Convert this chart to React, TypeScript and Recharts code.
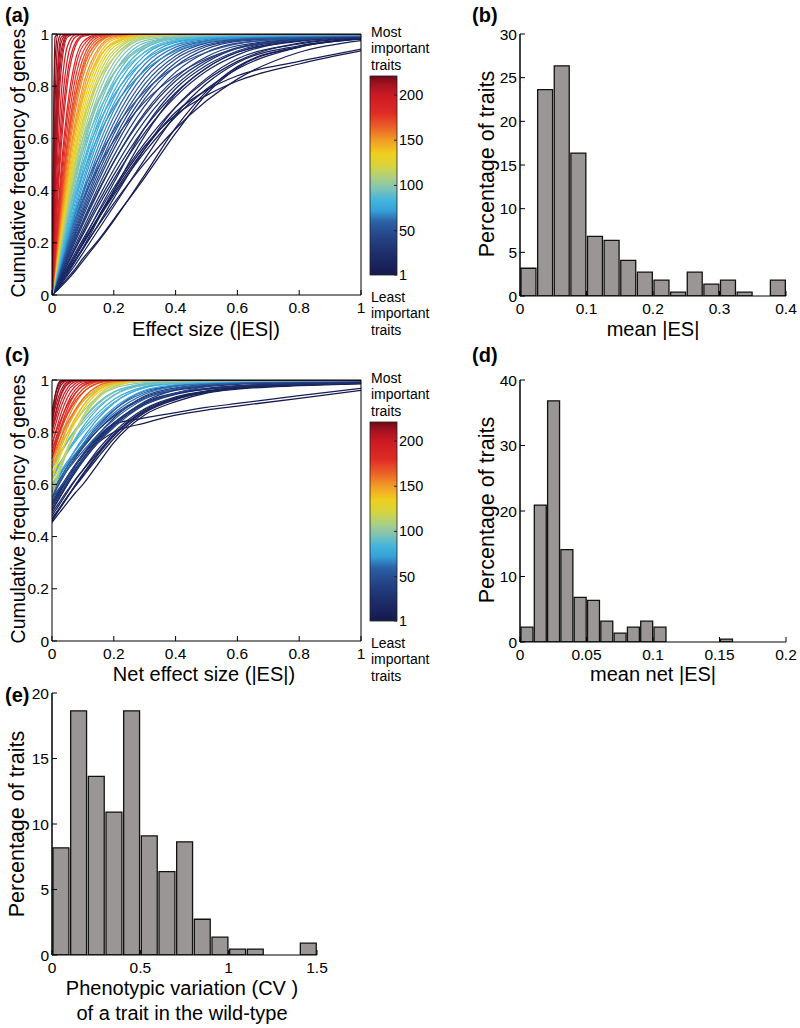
import React from 'react';
import { LineChart, Line, XAxis, YAxis, BarChart, Bar, ReferenceLine } from 'recharts';

const FONT = '"Liberation Sans", Arial, Helvetica, sans-serif';

// x grid (|ES|) shared by every cumulative curve in panels (a) and (c)
const ES_GRID = [0, 0.01, 0.02, 0.03, 0.05, 0.075, 0.1, 0.15, 0.2, 0.3, 0.4, 0.5, 0.6, 0.8, 1];
const CUM_XTICKS = [0, 0.2, 0.4, 0.6, 0.8, 1];
const CUM_YTICKS = [0, 0.2, 0.4, 0.6, 0.8, 1];

// panel (a): importance rank of each trait curve, and its cumulative frequency on ES_GRID
const RANKS_A = [
  1, 2, 3, 5, 7, 9, 11, 13, 15, 17, 19, 20, 23, 27, 29,
  31, 35, 39, 41, 43, 47, 51, 53, 55, 59, 63, 67, 69,
  71, 75, 77, 79, 83, 87, 89, 91, 93, 96, 99, 101,
  106, 112, 115, 118, 124, 130, 136, 139, 142, 147,
  152, 157, 160, 162, 167, 172, 177, 182,
  186, 190, 192, 194, 198, 202, 204, 206, 208, 210, 214, 217, 220,
];
const CURVES_A = [
  [0, .02, .04, .06, .10, .15, .20, .30, .40, .57, .69, .765, .82, .885, .935],
  [0, .01, .021, .033, .058, .092, .13, .205, .285, .46, .64, .78, .875, .952, .981],
  [0, .019, .038, .057, .095, .145, .195, .295, .39, .56, .70, .785, .84, .895, .942],
  [0, .012, .025, .038, .065, .10, .14, .21, .29, .45, .62, .77, .87, .95, .98],
  [0, .018, .036, .054, .091, .135, .18, .267, .351, .505, .637, .744, .827, .93, .975],
  [0, .014, .028, .043, .075, .115, .16, .25, .34, .52, .69, .81, .89, .955, .983],
  [0, .02, .04, .06, .10, .149, .197, .292, .383, .547, .683, .789, .866, .95, .982],
  [0, .016, .033, .05, .085, .13, .175, .27, .37, .56, .72, .83, .905, .962, .986],
  [0, .022, .043, .065, .107, .161, .213, .315, .411, .582, .72, .823, .895, .965, .986],
  [0, .015, .03, .047, .082, .128, .18, .29, .40, .61, .77, .87, .93, .975, .99],
  [0, .025, .05, .074, .12, .18, .24, .355, .46, .64, .775, .87, .93, .972, .988],
  [0, .024, .047, .07, .117, .175, .231, .341, .443, .622, .76, .858, .92, .975, .988],
  [0, .018, .037, .056, .095, .15, .205, .32, .43, .64, .79, .88, .935, .978, .991],
  [0, .026, .051, .077, .128, .191, .253, .372, .481, .667, .803, .892, .945, .978, .99],
  [0, .03, .06, .09, .145, .215, .28, .40, .51, .69, .82, .90, .948, .98, .99],
  [0, .028, .055, .082, .137, .204, .27, .395, .51, .699, .832, .913, .955, .98, .989],
  [0, .029, .058, .087, .145, .215, .284, .415, .533, .725, .854, .93, .965, .983, .99],
  [0, .031, .061, .092, .152, .227, .30, .436, .558, .751, .876, .943, .972, .985, .991],
  [0, .045, .088, .13, .205, .29, .365, .49, .59, .74, .84, .905, .945, .978, .99],
  [0, .032, .064, .096, .159, .236, .311, .451, .576, .77, .89, .952, .975, .986, .992],
  [0, .033, .066, .10, .165, .245, .323, .468, .595, .789, .904, .958, .977, .987, .993],
  [0, .035, .069, .104, .172, .256, .336, .486, .616, .808, .916, .965, .979, .988, .993],
  [0, .05, .098, .143, .225, .315, .395, .525, .63, .78, .875, .93, .962, .985, .993],
  [0, .036, .073, .108, .18, .267, .351, .505, .637, .827, .928, .968, .981, .989, .994],
  [0, .038, .076, .114, .188, .279, .366, .525, .659, .847, .94, .972, .983, .99, .994],
  [0, .04, .08, .119, .197, .292, .383, .547, .683, .866, .95, .975, .985, .991, .995],
  [0, .042, .084, .125, .207, .307, .401, .57, .708, .884, .958, .979, .986, .992, .996],
  [0, .062, .12, .175, .27, .375, .465, .61, .72, .86, .935, .97, .985, .994, .997],
  [0, .044, .088, .132, .219, .323, .422, .595, .733, .902, .968, .983, .989, .994, .997],
  [0, .046, .093, .138, .229, .337, .438, .617, .755, .918, .972, .985, .99, .995, .998],
  [0, .07, .135, .195, .30, .41, .505, .655, .765, .90, .96, .983, .992, .997, .999],
  [0, .049, .098, .146, .241, .354, .459, .642, .78, .932, .978, .988, .992, .996, .998],
  [0, .052, .103, .154, .253, .372, .481, .667, .803, .945, .982, .99, .994, .997, .999],
  [0, .054, .107, .161, .265, .388, .501, .688, .823, .956, .985, .992, .995, .998, .999],
  [0, .08, .152, .218, .333, .452, .55, .70, .81, .93, .975, .99, .996, .999, 1],
  [0, .057, .114, .17, .279, .408, .525, .716, .847, .966, .988, .994, .996, .998, .999],
  [0, .075, .148, .215, .335, .465, .575, .74, .85, .958, .988, .996, .999, 1, 1],
  [0, .06, .121, .18, .296, .43, .552, .744, .87, .975, .99, .995, .997, .999, 1],
  [0, .09, .17, .245, .37, .50, .60, .75, .85, .95, .985, .995, .999, 1, 1],
  [0, .064, .127, .19, .311, .451, .576, .77, .89, .982, .993, .997, .999, 1, 1],
  [0, .068, .135, .20, .329, .475, .603, .796, .909, .988, .998, 1, 1, 1, 1],
  [0, .071, .142, .211, .345, .497, .628, .819, .926, .992, .999, 1, 1, 1, 1],
  [0, .10, .19, .272, .41, .555, .665, .82, .91, .982, .997, 1, 1, 1, 1],
  [0, .075, .148, .221, .36, .516, .65, .838, .938, .994, 1, 1, 1, 1, 1],
  [0, .078, .156, .231, .376, .538, .673, .858, .95, .996, 1, 1, 1, 1, 1],
  [0, .082, .164, .243, .394, .56, .697, .877, .96, .998, 1, 1, 1, 1, 1],
  [0, .087, .172, .256, .413, .585, .723, .897, .97, .999, 1, 1, 1, 1, 1],
  [0, .12, .225, .32, .48, .64, .76, .905, .965, .997, 1, 1, 1, 1, 1],
  [0, .092, .182, .27, .435, .611, .75, .915, .979, .999, 1, 1, 1, 1, 1],
  [0, .097, .193, .286, .458, .64, .777, .933, .985, 1, 1, 1, 1, 1, 1],
  [0, .102, .202, .30, .478, .664, .80, .945, .99, 1, 1, 1, 1, 1, 1],
  [0, .11, .219, .323, .512, .701, .835, .962, .995, 1, 1, 1, 1, 1, 1],
  [0, .14, .27, .39, .58, .76, .87, .97, .995, 1, 1, 1, 1, 1, 1],
  [0, .117, .231, .341, .538, .73, .858, .973, .997, 1, 1, 1, 1, 1, 1],
  [0, .124, .245, .361, .565, .758, .881, .981, .998, 1, 1, 1, 1, 1, 1],
  [0, .132, .261, .383, .595, .789, .904, .988, .999, 1, 1, 1, 1, 1, 1],
  [0, .145, .284, .415, .637, .827, .931, .994, 1, 1, 1, 1, 1, 1, 1],
  [0, .159, .311, .451, .683, .866, .954, .997, 1, 1, 1, 1, 1, 1, 1],
  [0, .172, .336, .486, .723, .897, .97, .999, 1, 1, 1, 1, 1, 1, 1],
  [0, .207, .401, .57, .812, .951, .991, 1, 1, 1, 1, 1, 1, 1, 1],
  [0, .23, .44, .62, .85, .965, .995, 1, 1, 1, 1, 1, 1, 1, 1],
  [0, .261, .495, .683, .904, .988, .999, 1, 1, 1, 1, 1, 1, 1, 1],
  [0, .311, .576, .77, .954, .997, 1, 1, 1, 1, 1, 1, 1, 1, 1],
  [0, .383, .683, .866, .988, 1, 1, 1, 1, 1, 1, 1, 1, 1, 1],
  [0, .42, .74, .91, .995, 1, 1, 1, 1, 1, 1, 1, 1, 1, 1],
  [0, .468, .789, .939, .998, 1, 1, 1, 1, 1, 1, 1, 1, 1, 1],
  [0, .52, .85, .97, 1, 1, 1, 1, 1, 1, 1, 1, 1, 1, 1],
  [0, .595, .904, .988, 1, 1, 1, 1, 1, 1, 1, 1, 1, 1, 1],
  [0, .733, .973, .999, 1, 1, 1, 1, 1, 1, 1, 1, 1, 1, 1],
  [0, .904, .999, 1, 1, 1, 1, 1, 1, 1, 1, 1, 1, 1, 1],
  [0, .988, 1, 1, 1, 1, 1, 1, 1, 1, 1, 1, 1, 1, 1],
];

// panel (c): net effect size, curves start well above zero
const RANKS_C = [
  1, 3, 5, 7, 10, 12, 13, 16, 19, 22, 25, 28, 31, 33,
  36, 41, 46, 52, 58, 60, 64,
  70, 75, 78, 80, 85, 90, 92, 95, 100, 104,
  108, 110, 118, 126, 134, 142, 146,
  150, 156, 162, 168, 171, 174, 180,
  185, 189, 193, 197, 201, 205, 207, 209, 213, 215, 217, 220,
];
const CURVES_C = [
  [.50, .52, .54, .56, .60, .65, .69, .76, .80, .835, .865, .885, .90, .93, .96],
  [.455, .47, .485, .50, .53, .567, .60, .68, .76, .866, .917, .95, .965, .978, .985],
  [.52, .54, .56, .58, .62, .67, .71, .78, .83, .855, .875, .895, .91, .94, .968],
  [.46, .478, .497, .515, .55, .594, .635, .715, .785, .88, .93, .955, .97, .982, .988],
  [.47, .487, .503, .52, .553, .592, .63, .705, .775, .875, .925, .952, .968, .98, .987],
  [.465, .483, .50, .518, .553, .597, .64, .72, .79, .885, .932, .956, .97, .981, .987],
  [.48, .498, .516, .534, .57, .615, .655, .735, .80, .89, .935, .958, .972, .982, .988],
  [.49, .508, .525, .543, .577, .618, .655, .725, .79, .88, .928, .953, .968, .98, .988],
  [.50, .52, .54, .56, .60, .645, .69, .765, .825, .905, .945, .965, .976, .985, .99],
  [.51, .53, .55, .57, .61, .655, .70, .775, .835, .91, .948, .966, .977, .986, .99],
  [.53, .55, .57, .59, .63, .675, .715, .785, .835, .915, .95, .965, .975, .985, .99],
  [.53, .548, .566, .584, .62, .66, .70, .77, .83, .91, .95, .968, .978, .986, .99],
  [.57, .59, .61, .63, .67, .71, .745, .81, .86, .93, .96, .975, .983, .99, .994],
  [.55, .572, .594, .616, .657, .70, .74, .81, .865, .935, .965, .978, .986, .992, .995],
  [.52, .537, .555, .572, .606, .648, .688, .762, .826, .917, .962, .98, .988, .994, .997],
  [.54, .558, .577, .595, .631, .674, .716, .792, .854, .938, .97, .984, .99, .995, .998],
  [.55, .565, .58, .595, .624, .66, .695, .761, .818, .905, .95, .975, .986, .993, .997],
  [.56, .579, .599, .618, .656, .702, .746, .822, .883, .958, .978, .988, .993, .997, .999],
  [.58, .595, .611, .625, .656, .692, .727, .792, .848, .927, .966, .982, .989, .995, .998],
  [.57, .59, .61, .63, .668, .713, .755, .83, .885, .952, .978, .988, .993, .997, .999],
  [.60, .616, .632, .648, .679, .717, .753, .819, .873, .946, .975, .987, .992, .996, .998],
  [.58, .601, .622, .643, .683, .732, .777, .854, .911, .972, .988, .993, .996, .998, .999],
  [.60, .618, .635, .653, .688, .729, .769, .838, .893, .96, .982, .99, .994, .997, .999],
  [.63, .65, .67, .69, .728, .77, .81, .875, .925, .975, .99, .995, .997, .999, 1],
  [.62, .642, .663, .685, .726, .775, .82, .892, .942, .982, .992, .995, .997, .999, 1],
  [.64, .657, .674, .69, .723, .763, .799, .864, .914, .97, .986, .992, .995, .998, .999],
  [.66, .681, .701, .722, .762, .808, .85, .915, .955, .985, .993, .996, .998, .999, 1],
  [.67, .69, .71, .73, .768, .81, .848, .91, .952, .986, .995, .998, .999, 1, 1],
  [.68, .697, .714, .731, .764, .803, .838, .899, .941, .98, .99, .994, .996, .998, .999],
  [.70, .72, .74, .759, .797, .84, .879, .937, .968, .99, .995, .997, .998, .999, 1],
  [.74, .761, .781, .801, .84, .882, .918, .965, .985, .994, .997, .998, .999, 1, 1],
  [.58, .612, .644, .675, .735, .80, .855, .935, .975, .998, 1, 1, 1, 1, 1],
  [.56, .595, .63, .664, .729, .801, .861, .941, .98, .999, 1, 1, 1, 1, 1],
  [.60, .629, .658, .686, .74, .802, .855, .931, .972, .998, 1, 1, 1, 1, 1],
  [.62, .653, .687, .719, .78, .846, .899, .964, .99, 1, 1, 1, 1, 1, 1],
  [.64, .669, .697, .725, .778, .837, .886, .952, .983, .999, 1, 1, 1, 1, 1],
  [.66, .689, .717, .744, .796, .854, .901, .961, .988, .999, 1, 1, 1, 1, 1],
  [.68, .71, .74, .768, .82, .875, .918, .97, .992, 1, 1, 1, 1, 1, 1],
  [.66, .694, .727, .759, .819, .882, .928, .979, .996, 1, 1, 1, 1, 1, 1],
  [.68, .716, .752, .786, .848, .909, .951, .99, .999, 1, 1, 1, 1, 1, 1],
  [.70, .728, .756, .783, .833, .887, .928, .977, .994, 1, 1, 1, 1, 1, 1],
  [.72, .754, .788, .819, .876, .93, .965, .994, .999, 1, 1, 1, 1, 1, 1],
  [.70, .738, .775, .81, .87, .93, .965, .995, 1, 1, 1, 1, 1, 1, 1],
  [.74, .768, .795, .821, .869, .918, .952, .988, .998, 1, 1, 1, 1, 1, 1],
  [.76, .792, .823, .852, .903, .949, .977, .997, 1, 1, 1, 1, 1, 1, 1],
  [.70, .744, .785, .825, .891, .948, .979, .998, 1, 1, 1, 1, 1, 1, 1],
  [.72, .765, .807, .846, .911, .962, .987, .999, 1, 1, 1, 1, 1, 1, 1],
  [.75, .794, .836, .874, .933, .976, .994, 1, 1, 1, 1, 1, 1, 1, 1],
  [.78, .823, .864, .90, .954, .987, .997, 1, 1, 1, 1, 1, 1, 1, 1],
  [.80, .845, .886, .922, .969, .994, .999, 1, 1, 1, 1, 1, 1, 1, 1],
  [.82, .867, .909, .943, .983, .998, 1, 1, 1, 1, 1, 1, 1, 1, 1],
  [.80, .86, .91, .948, .988, 1, 1, 1, 1, 1, 1, 1, 1, 1, 1],
  [.84, .89, .932, .963, .993, 1, 1, 1, 1, 1, 1, 1, 1, 1, 1],
  [.86, .914, .956, .981, .998, 1, 1, 1, 1, 1, 1, 1, 1, 1, 1],
  [.83, .905, .96, .99, 1, 1, 1, 1, 1, 1, 1, 1, 1, 1, 1],
  [.85, .939, .986, .998, 1, 1, 1, 1, 1, 1, 1, 1, 1, 1, 1],
  [.88, .939, .978, .994, 1, 1, 1, 1, 1, 1, 1, 1, 1, 1, 1],
];

// colour map for trait importance (rank 1 = least, 221 = most)
const CMAP_RANK = [1, 25, 45, 60, 72, 84, 96, 108, 122, 135, 150, 165, 180, 200, 213, 221];
const CMAP_HEX = [
  '#15194f', '#1d2f6c', '#26468a', '#2b62a6', '#35a0d8', '#44b5dc', '#7ec3b6', '#a9cf86',
  '#d8d43b', '#efcf1f', '#f29c25', '#ec5d27', '#df2b26', '#cc1a24', '#9e1120', '#6c0a14',
];
const COLORBAR_TICKS = [1, 50, 100, 150, 200];

// panel (b): mean |ES|, bin lower edges and % of traits
const B_EDGES = [0, 0.025, 0.05, 0.075, 0.1, 0.125, 0.15, 0.175, 0.2, 0.225, 0.25, 0.275, 0.3, 0.325, 0.35, 0.375];
const B_PCT = [3.18, 23.64, 26.36, 16.36, 6.82, 6.36, 4.09, 2.73, 1.82, 0.45, 2.73, 1.36, 1.82, 0.45, 0, 1.82];
const B_XTICKS = [0, 0.1, 0.2, 0.3, 0.4];
const B_YTICKS = [0, 5, 10, 15, 20, 25, 30];

// panel (d): mean net |ES|
const D_EDGES = [0, 0.01, 0.02, 0.03, 0.04, 0.05, 0.06, 0.07, 0.08, 0.09, 0.1, 0.11, 0.12, 0.13, 0.14, 0.15, 0.16, 0.17, 0.18, 0.19];
const D_PCT = [2.27, 20.91, 36.82, 14.09, 6.82, 6.36, 3.18, 1.36, 2.27, 3.18, 2.27, 0, 0, 0, 0, 0.45, 0, 0, 0, 0];
const D_XTICKS = [0, 0.05, 0.1, 0.15, 0.2];
const D_YTICKS = [0, 10, 20, 30, 40];

// panel (e): CV of a trait in the wild-type
const E_EDGES = [0, 0.1, 0.2, 0.3, 0.4, 0.5, 0.6, 0.7, 0.8, 0.9, 1, 1.1, 1.2, 1.3, 1.4];
const E_PCT = [8.18, 18.64, 13.64, 10.91, 18.64, 9.09, 6.36, 8.64, 2.73, 1.36, 0.45, 0.45, 0, 0, 0.91];
const E_XTICKS = [0, 0.5, 1, 1.5];
const E_YTICKS = [0, 5, 10, 15, 20];

function hexToRgb(h: string) {
  return [parseInt(h.slice(1, 3), 16), parseInt(h.slice(3, 5), 16), parseInt(h.slice(5, 7), 16)];
}

function rankColor(rank: number) {
  let i = 0;
  while (i < CMAP_RANK.length - 2 && rank > CMAP_RANK[i + 1]) i++;
  const t = Math.min(1, Math.max(0, (rank - CMAP_RANK[i]) / (CMAP_RANK[i + 1] - CMAP_RANK[i])));
  const a = hexToRgb(CMAP_HEX[i]);
  const b = hexToRgb(CMAP_HEX[i + 1]);
  const c = a.map((v, k) => Math.round(v + (b[k] - v) * t));
  return `rgb(${c[0]},${c[1]},${c[2]})`;
}

const TICK_FONT = 15.5;

const BottomTick = (props: any) => {
  const { x, y, payload } = props;
  return (
    <g>
      <line x1={x} y1={y} x2={x} y2={y - 5} stroke="#000" strokeWidth={1} />
      <text x={x} y={y + 18} textAnchor="middle" fontSize={TICK_FONT} fontFamily={FONT} fill="#000">
        {String(payload.value)}
      </text>
    </g>
  );
};

const LeftTick = (props: any) => {
  const { x, y, payload } = props;
  return (
    <g>
      <line x1={x} y1={y} x2={x + 5} y2={y} stroke="#000" strokeWidth={1} />
      <text x={x - 3} y={y + 5.5} textAnchor="end" fontSize={TICK_FONT} fontFamily={FONT} fill="#000">
        {String(payload.value)}
      </text>
    </g>
  );
};

const CurvePanel = ({ ranks, curves }: { ranks: number[]; curves: number[][] }) => {
  const data = ES_GRID.map((x, i) => {
    const row: Record<string, number> = { x };
    curves.forEach((c, j) => {
      row['c' + j] = c[i];
    });
    return row;
  });
  return (
    <LineChart width={370} height={330} data={data} margin={{ top: 34, right: 9, bottom: 0, left: 0 }}>
      <XAxis
        dataKey="x"
        type="number"
        domain={[0, 1]}
        ticks={CUM_XTICKS}
        height={35}
        tickSize={0}
        tickMargin={0}
        tickLine={false}
        tick={<BottomTick />}
        stroke="#000"
        allowDataOverflow
      />
      <XAxis xAxisId="top" orientation="top" mirror type="number" domain={[0, 1]} ticks={CUM_XTICKS} tick={false} tickSize={5} stroke="#000" allowDataOverflow />
      <YAxis
        type="number"
        domain={[0, 1]}
        ticks={CUM_YTICKS}
        width={52}
        tickSize={0}
        tickMargin={0}
        tickLine={false}
        tick={<LeftTick />}
        stroke="#000"
        allowDataOverflow
      />
      <YAxis yAxisId="right" orientation="right" mirror type="number" domain={[0, 1]} ticks={CUM_YTICKS} tick={false} tickSize={5} stroke="#000" allowDataOverflow />
      {curves.map((_, j) => (
        <Line
          key={j}
          dataKey={'c' + j}
          type="monotone"
          stroke={rankColor(ranks[j])}
          strokeWidth={1.25}
          dot={false}
          activeDot={false}
          isAnimationActive={false}
        />
      ))}
    </LineChart>
  );
};

interface HistProps {
  edges: number[];
  pct: number[];
  binWidth: number;
  xMax: number;
  xTicks: number[];
  yMax: number;
  yTicks: number[];
  width: number;
  height: number;
  yAxisWidth: number;
  marginRight: number;
  marginTop: number;
  xAxisHeight: number;
}

const Histogram = (p: HistProps) => {
  const data = p.edges.map((e, i) => ({ x: e + p.binWidth / 2, pct: p.pct[i] }));
  const plotW = p.width - p.yAxisWidth - p.marginRight;
  const barSize = (plotW * p.binWidth) / p.xMax;
  return (
    <BarChart
      width={p.width}
      height={p.height}
      data={data}
      margin={{ top: p.marginTop, right: p.marginRight, bottom: 0, left: 0 }}
      barCategoryGap={0}
      barGap={0}
    >
      <XAxis
        dataKey="x"
        type="number"
        domain={[0, p.xMax]}
        ticks={p.xTicks}
        height={p.xAxisHeight}
        tickSize={0}
        tickMargin={0}
        tickLine={false}
        tick={<BottomTick />}
        stroke="#000"
        allowDataOverflow
      />
      <YAxis
        type="number"
        domain={[0, p.yMax]}
        ticks={p.yTicks}
        width={p.yAxisWidth}
        tickSize={0}
        tickMargin={0}
        tickLine={false}
        tick={<LeftTick />}
        stroke="#000"
        allowDataOverflow
      />
      <Bar dataKey="pct" barSize={barSize} fill="#9a9696" stroke="#111" strokeWidth={1.3} isAnimationActive={false} />
      <ReferenceLine x={0} stroke="#000" strokeWidth={1} />
    </BarChart>
  );
};

const Colorbar = ({ top }: { top: number }) => {
  const h = 199;
  const ty = (v: number) => top + ((221 - v) / 220) * h;
  return (
    <g>
      <text x={371} y={top - 39} fontSize={14} fontFamily={FONT}>Most</text>
      <text x={371} y={top - 23} fontSize={14} fontFamily={FONT}>important</text>
      <text x={371} y={top - 6} fontSize={14} fontFamily={FONT}>traits</text>
      <rect x={370} y={top} width={27} height={h} fill="url(#cmap)" stroke="#222" strokeWidth={0.8} />
      {COLORBAR_TICKS.map((v) => (
        <g key={v}>
          <line x1={394} x2={397} y1={ty(v)} y2={ty(v)} stroke="#222" />
          <text x={399} y={ty(v) + 5} fontSize={14.5} fontFamily={FONT}>{v}</text>
        </g>
      ))}
      <text x={371} y={top + h + 27} fontSize={14} fontFamily={FONT}>Least</text>
      <text x={371} y={top + h + 43} fontSize={14} fontFamily={FONT}>important</text>
      <text x={371} y={top + h + 60} fontSize={14} fontFamily={FONT}>traits</text>
    </g>
  );
};

const YTitle = ({ x, y, size, children }: { x: number; y: number; size: number; children: React.ReactNode }) => (
  <text transform={`translate(${x},${y}) rotate(-90)`} textAnchor="middle" dominantBaseline="central" fontSize={size} fontFamily={FONT}>
    {children}
  </text>
);

const XTitle = ({ x, y, children }: { x: number; y: number; children: React.ReactNode }) => (
  <text x={x} y={y} textAnchor="middle" fontSize={20} fontFamily={FONT}>
    {children}
  </text>
);

const PanelTag = ({ x, y, children }: { x: number; y: number; children: React.ReactNode }) => (
  <text x={x} y={y} fontSize={20} fontWeight="bold" fontFamily={FONT}>
    {children}
  </text>
);

export default function App() {
  return (
    <div style={{ position: 'absolute', left: 0, top: 0, width: 800, height: 1028, background: '#fff' }}>
      <div style={{ position: 'absolute', left: 0, top: 0 }}>
        <CurvePanel ranks={RANKS_A} curves={CURVES_A} />
      </div>
      <div style={{ position: 'absolute', left: 0, top: 346 }}>
        <CurvePanel ranks={RANKS_C} curves={CURVES_C} />
      </div>
      <div style={{ position: 'absolute', left: 420, top: 0 }}>
        <Histogram edges={B_EDGES} pct={B_PCT} binWidth={0.025} xMax={0.4} xTicks={B_XTICKS} yMax={30} yTicks={B_YTICKS}
          width={380} height={330} yAxisWidth={100} marginRight={14} marginTop={34} xAxisHeight={34} />
      </div>
      <div style={{ position: 'absolute', left: 420, top: 346 }}>
        <Histogram edges={D_EDGES} pct={D_PCT} binWidth={0.01} xMax={0.2} xTicks={D_XTICKS} yMax={40} yTicks={D_YTICKS}
          width={380} height={330} yAxisWidth={100} marginRight={14} marginTop={34} xAxisHeight={34} />
      </div>
      <div style={{ position: 'absolute', left: 0, top: 660 }}>
        <Histogram edges={E_EDGES} pct={E_PCT} binWidth={0.1} xMax={1.5} xTicks={E_XTICKS} yMax={20} yTicks={E_YTICKS}
          width={380} height={330} yAxisWidth={52} marginRight={63} marginTop={33} xAxisHeight={35} />
      </div>

      <svg width={800} height={1028} style={{ position: 'absolute', left: 0, top: 0, pointerEvents: 'none' }}>
        <defs>
          <linearGradient id="cmap" x1="0" y1="1" x2="0" y2="0">
            {CMAP_RANK.map((r, i) => (
              <stop key={r} offset={(r - 1) / 220} stopColor={CMAP_HEX[i]} />
            ))}
          </linearGradient>
        </defs>

        <PanelTag x={5} y={22}>(a)</PanelTag>
        <PanelTag x={472} y={22}>(b)</PanelTag>
        <PanelTag x={5} y={362}>(c)</PanelTag>
        <PanelTag x={472} y={362}>(d)</PanelTag>
        <PanelTag x={5} y={702}>(e)</PanelTag>

        <YTitle x={18} y={163} size={19.5}>Cumulative frequency of genes</YTitle>
        <YTitle x={18} y={509} size={19.5}>Cumulative frequency of genes</YTitle>
        <YTitle x={487} y={164} size={21.5}>Percentage of traits</YTitle>
        <YTitle x={487} y={510} size={21.5}>Percentage of traits</YTitle>
        <YTitle x={17} y={824} size={21.5}>Percentage of traits</YTitle>

        <XTitle x={206} y={336}>Effect size (|ES|)</XTitle>
        <XTitle x={653} y={336}>mean |ES|</XTitle>
        <XTitle x={204} y={681}>Net effect size (|ES|)</XTitle>
        <XTitle x={653} y={681}>mean net |ES|</XTitle>
        <XTitle x={182} y={995}>Phenotypic variation (CV )</XTitle>
        <XTitle x={182} y={1020}>of a trait in the wild-type</XTitle>

        <Colorbar top={76} />
        <Colorbar top={422} />
      </svg>
    </div>
  );
}
